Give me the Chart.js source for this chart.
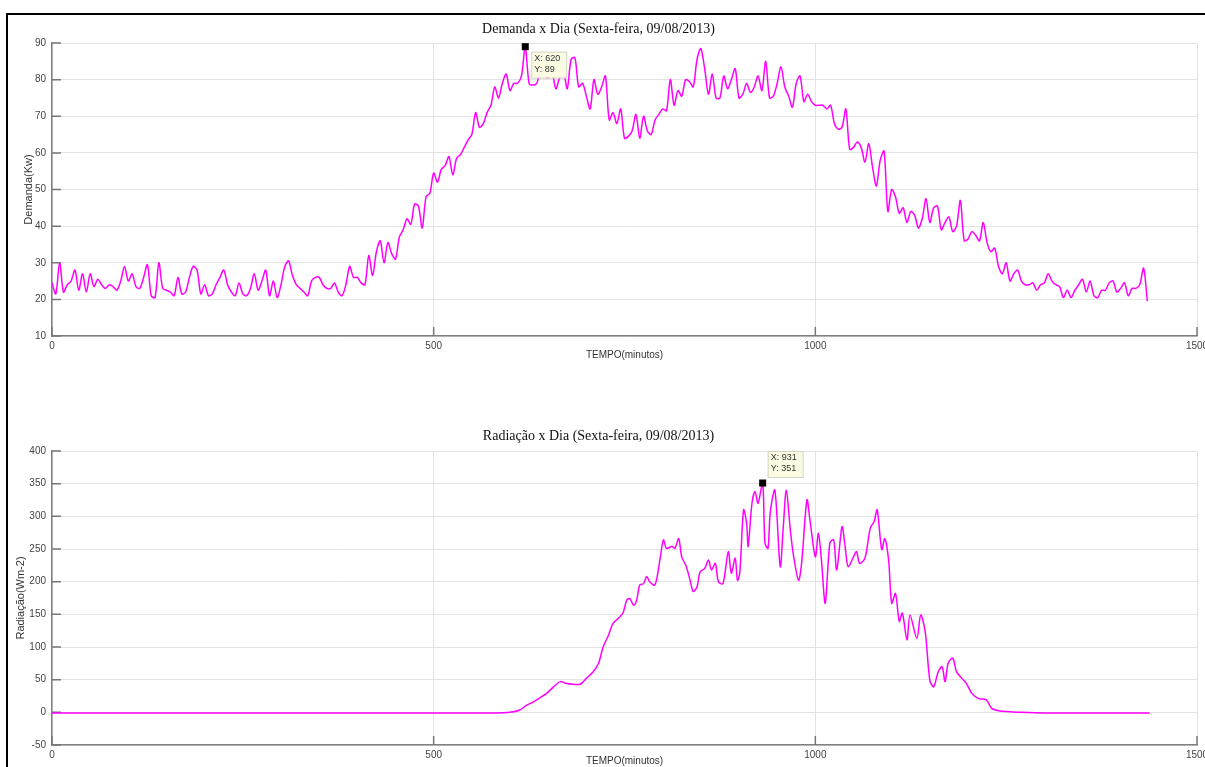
<!DOCTYPE html>
<html>
<head>
<meta charset="utf-8">
<script src="https://cdn.jsdelivr.net/npm/chart.js@4.4.1/dist/chart.umd.min.js"></script>
<style>
  body { margin: 0; background: #fff; overflow: hidden; width: 1205px; height: 767px; position: relative; }
  #moldura { position: absolute; left: 6px; top: 13px; width: 1300px; height: 900px;
             border-left: 2px solid #000; border-top: 2px solid #000; }
  canvas { position: absolute; left: 0; }
  #c1 { top: 0; }
  #c2 { top: 390px; }
</style>
</head>
<body>
<div id="moldura"></div>
<canvas id="c1" width="1205" height="380"></canvas>
<canvas id="c2" width="1205" height="400"></canvas>
<script>
// demanda a cada 5 minutos, a partir do minuto 0
const demandaPasso = 5;
const demandaValores = [
  24.5, 21.5, 30, 22, 24, 25, 28, 22.5, 27, 22,
  27, 23.5, 25.5, 24, 23, 24, 23.5, 22.5, 25, 29,
  25, 27, 23.5, 23, 26, 29.5, 21, 20.5, 30, 23,
  22.5, 22, 21, 26, 21.5, 22, 26, 29, 28, 21.5,
  24, 21, 21.5, 24, 26, 28, 24, 22, 21, 24.5,
  21.5, 21, 23, 27, 22.5, 25, 28, 21, 25, 20.5,
  24, 29, 30.5,
  26.5, 24, 23, 22, 21, 25, 26, 26, 24, 23,
  23, 24.5, 22, 21, 24, 29, 26, 26, 24.5, 24,
  32, 26.5, 33, 36, 30, 35.5, 32.5, 31, 37, 39,
  42, 40.5, 46, 45.5, 39.5, 48, 49, 54.5, 52, 55.5,
  56.5, 59, 54, 58.5, 59.5, 61.5, 63.5, 65, 71, 67,
  68, 71, 73, 78, 75, 79, 81.5, 77, 79, 79,
  81, 89, 79, 78.5, 79, 82, 81, 80.5, 82, 77.5,
  80.5, 82, 77.5, 85.5, 86, 78, 79, 75.5, 72,
  80, 76, 78, 81, 69, 71, 68, 72, 64, 64.5,
  66, 70.5, 64, 70, 66, 65, 69, 70.5, 72, 71.5,
  80, 73, 77, 75.5, 80, 79.5, 78, 85.5, 88.5, 83,
  76, 81.5, 75, 75, 81, 77.5, 80, 83, 75, 76,
  79, 76.5, 78, 81, 77, 85, 75, 75.5, 79, 83.5,
  78, 75.5, 72.5, 79, 81, 74, 76, 74, 73, 73,
  73, 72, 73, 68, 66.5, 67, 72, 61, 61.5, 63,
  61.5, 57.5, 62.5, 56, 51, 58, 60.5, 44, 50,
  48, 43.5, 45, 41, 44, 43, 39.5, 42, 47.5, 41,
  45, 45.5, 39, 41, 42.5, 38.5, 40, 47, 36, 36.5,
  38.5, 37.5, 36, 41, 35.5, 33, 34, 29, 27, 30,
  25, 27, 28, 25, 24, 24, 24.5, 22.5, 24, 24.5,
  27, 25, 24, 23.5, 20.5, 22.5, 20.5, 22.5, 24, 25.5,
  22, 25, 21, 20.5, 22.5, 22.5, 24.5, 25, 22, 23,
  24.5, 21, 23, 23, 24, 28.5, 19.5
];

const radMinutos = [
  0, 100, 200, 300, 400, 500, 580, 600, 613, 622, 631, 639, 648, 657, 666, 674, 683, 692,
  700, 709, 716, 722, 729, 735, 742, 748, 753, 757, 762, 766, 770, 775, 779, 783, 790, 797,
  801, 805, 812, 816, 821, 825, 831, 836, 840, 845, 849, 855, 860, 864, 869, 873, 879, 886,
  890, 895, 898, 901, 906, 910, 912, 917, 921, 925, 931, 934, 938, 941, 947, 954, 958, 962,
  967, 971, 978, 982, 989, 993, 1000, 1004, 1008, 1013, 1019, 1024, 1028, 1035, 1039, 1043,
  1050, 1054, 1058, 1065, 1072, 1077, 1081, 1087, 1091, 1096, 1100, 1105, 1110, 1114, 1120,
  1124, 1133, 1138, 1144, 1150, 1155, 1161, 1166, 1170, 1174, 1180, 1185, 1192, 1198, 1205,
  1214, 1224, 1231, 1240, 1255, 1270, 1300, 1350, 1400, 1438
];
const radValores = [
  -1, -1, -1, -1, -1, -1, -1, 0, 3.5, 11, 16, 22, 29, 39, 47, 44, 43, 43,
  52, 62, 75, 100, 118, 136, 144, 152, 172, 174, 164, 172, 195, 197, 208, 200, 195, 238,
  264, 251, 254, 251, 266, 238, 223, 202, 185, 192, 215, 220, 233, 218, 228, 200, 197, 246,
  213, 236, 202, 213, 310, 289, 254, 320, 338, 320, 351, 259, 251, 307, 340, 223, 284, 340,
  282, 243, 202, 228, 325, 294, 238, 274, 233, 167, 259, 264, 218, 284, 254, 223,
  238, 246, 228, 236, 282, 292, 310, 249, 266, 233, 167, 182, 139, 152, 111,
  149, 113, 149, 123, 49, 39, 62, 70, 47, 75, 83, 62, 52, 44, 29,
  21, 19, 6, 2.5, 1, 0, -1, -1, -1, -1
];

const ticksX = [0, 500, 1000, 1500];
const ticksDemanda = [10, 20, 30, 40, 50, 60, 70, 80, 90];
const ticksRad = [-50, 0, 50, 100, 150, 200, 250, 300, 350, 400];

const dicaDemanda = [620, 89];
const dicaRad = [931, 351];

const corLinha = '#ff00ff';
const fonteSans = '"Liberation Sans", Arial, sans-serif';
const fonteSerif = '"Liberation Serif", "Times New Roman", serif';

// marcas de escala para dentro, estilo MATLAB
const marcasInternas = {
  id: 'marcasInternas',
  beforeDatasetsDraw(chart) {
    const { ctx, chartArea: a, scales: { x, y } } = chart;
    ctx.save();
    ctx.strokeStyle = '#777';
    ctx.lineWidth = 1.5;
    ctx.beginPath();
    y.ticks.forEach(t => {
      const py = y.getPixelForValue(t.value);
      ctx.moveTo(a.left, py);
      ctx.lineTo(a.left + 9, py);
    });
    x.ticks.forEach(t => {
      const px = x.getPixelForValue(t.value);
      ctx.moveTo(px, a.bottom);
      ctx.lineTo(px, a.bottom - 9);
    });
    ctx.stroke();
    ctx.restore();
  }
};

const dicaDados = {
  id: 'dicaDados',
  afterDatasetsDraw(chart, args, opts) {
    const { ctx, scales: { x, y } } = chart;
    const px = x.getPixelForValue(opts.ponto[0]);
    const py = y.getPixelForValue(opts.ponto[1]);
    ctx.save();
    ctx.fillStyle = '#000';
    ctx.fillRect(px - 3.5, py - 3.5, 7, 7);
    const bx = px + opts.dx, by = py + opts.dy;
    ctx.fillStyle = '#fbfbe4';
    ctx.fillRect(bx, by, 35, 26);
    ctx.strokeStyle = '#d4d4c0';
    ctx.lineWidth = 1;
    ctx.strokeRect(bx + 0.5, by + 0.5, 35, 26);
    ctx.fillStyle = '#333';
    ctx.font = '9px ' + fonteSans;
    ctx.textBaseline = 'middle';
    ctx.fillText('X: ' + opts.ponto[0], bx + 3, by + 7);
    ctx.fillText('Y: ' + opts.ponto[1], bx + 3, by + 18);
    ctx.restore();
  }
};

function opcoes(titulo, tituloPad, tituloY, padY, ticksY, dica, padBaixo, padTituloX) {
  return {
    responsive: false,
    animation: false,
    devicePixelRatio: 1,
    layout: { padding: { left: 0, right: 8, top: 0, bottom: padBaixo } },
    plugins: {
      legend: { display: false },
      tooltip: { enabled: false },
      title: {
        display: true, text: titulo, color: '#111',
        font: { family: fonteSerif, size: 14, weight: 'normal' },
        padding: tituloPad
      },
      dicaDados: dica
    },
    scales: {
      x: {
        type: 'linear', min: 0, max: 1500,
        afterBuildTicks: s => { s.ticks = ticksX.map(v => ({ value: v })); },
        afterFit: s => { s.height = 30; s.paddingRight = 0; s.paddingLeft = 0; },
        grid: { color: '#e3e3e3', lineWidth: 1, drawTicks: false },
        border: { color: '#808080', width: 1.5 },
        ticks: { color: '#444', font: { family: fonteSans, size: 10 }, padding: 4, maxRotation: 0,
                 callback: v => String(v) },
        title: { display: true, text: 'TEMPO(minutos)', color: '#333',
                 font: { family: fonteSans, size: 10 }, padding: { top: 0, bottom: padTituloX } }
      },
      y: {
        min: ticksY[0], max: ticksY[ticksY.length - 1],
        afterBuildTicks: s => { s.ticks = ticksY.map(v => ({ value: v })); },
        afterFit: s => { s.width = 52; },
        grid: { color: '#e3e3e3', lineWidth: 1, drawTicks: false },
        border: { color: '#808080', width: 1.5 },
        ticks: { color: '#444', font: { family: fonteSans, size: 10 }, padding: 6,
                 callback: v => String(v) },
        title: { display: true, text: tituloY, color: '#333',
                 font: { family: fonteSans, size: 11 }, padding: { top: padY, bottom: 0 } }
      }
    }
  };
}

new Chart(document.getElementById('c1'), {
  type: 'line',
  data: {
    datasets: [{
      data: demandaValores.map((v, i) => ({ x: i * demandaPasso, y: v })),
      borderColor: corLinha, borderWidth: 1.5, pointRadius: 0, tension: 0.3
    }]
  },
  options: opcoes('Demanda x Dia (Sexta-feira, 09/08/2013)', { top: 20.6, bottom: 5.6 },
    'Demanda(Kw)', 22.5, ticksDemanda, { ponto: dicaDemanda, dx: 6, dy: 5 }, 14, 5),
  plugins: [marcasInternas, dicaDados]
});

new Chart(document.getElementById('c2'), {
  type: 'line',
  data: {
    datasets: [{
      data: radMinutos.map((m, i) => ({ x: m, y: radValores[i] })),
      borderColor: corLinha, borderWidth: 1.5, pointRadius: 0, tension: 0.3
    }]
  },
  options: opcoes('Radiação x Dia (Sexta-feira, 09/08/2013)', { top: 37.6, bottom: 6.6 },
    'Radiação(Wm-2)', 14, ticksRad, { ponto: dicaRad, dx: 5, dy: -32 }, 15, 8),
  plugins: [marcasInternas, dicaDados]
});
</script>
</body>
</html>
